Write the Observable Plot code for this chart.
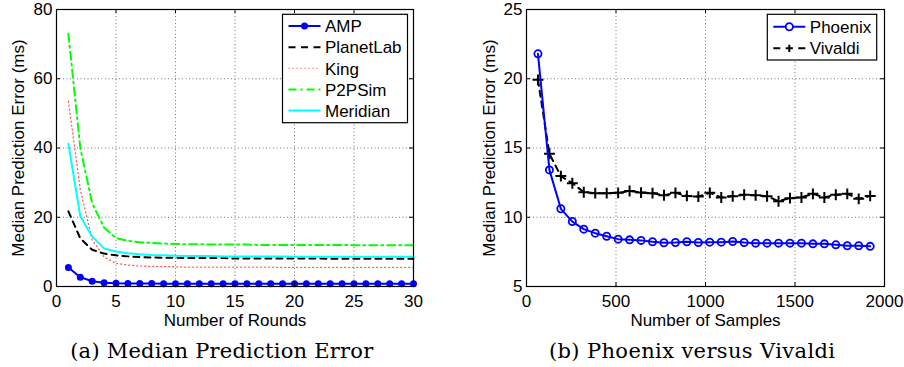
<!DOCTYPE html>
<html><head><meta charset="utf-8">
<script src="https://cdn.jsdelivr.net/npm/d3@7"></script>
<script src="https://cdn.jsdelivr.net/npm/@observablehq/plot@0.6"></script>
<style>
body{margin:0;background:#fff;}
#wrap{position:relative;width:904px;height:367px;overflow:hidden;background:#fff;}
.panel{position:absolute;top:0;}
#overlay{position:absolute;left:0;top:0;pointer-events:none;}
</style></head>
<body><div id="wrap"></div>
<script>
// ---------- data: panel (a) ----------
const rounds = [1,2,3,4,5,6,7,8,9,10,11,12,13,14,15,16,17,18,19,20,21,22,23,24,25,26,27,28,29,30];
const amp = [5.5,2.7,1.5,1.1,0.95,0.9,0.85,0.85,0.8,0.8,0.8,0.8,0.8,0.8,0.8,0.8,0.8,0.8,0.8,0.8,0.8,0.8,0.8,0.8,0.8,0.8,0.8,0.8,0.8,0.8];
const planetlab = [21.7,13.9,10.6,9.5,9.0,8.7,8.5,8.4,8.3,8.3,8.2,8.2,8.2,8.2,8.1,8.1,8.1,8.1,8.1,8.1,8.1,8.1,8.0,8.0,8.0,8.0,8.0,8.0,8.0,8.0];
const king = [53.5,28,13.5,8.5,6.7,6.2,5.9,5.8,5.7,5.7,5.6,5.6,5.6,5.6,5.6,5.6,5.6,5.6,5.5,5.5,5.5,5.5,5.5,5.5,5.5,5.5,5.5,5.5,5.5,5.5];
const p2psim = [73,40,24,17,14,13.2,12.8,12.6,12.4,12.3,12.2,12.2,12.1,12.1,12.1,12.1,12.0,12.0,12.0,12.0,12.0,12.0,12.0,12.0,11.9,11.9,11.9,11.9,11.9,11.9];
const meridian = [41.2,20.3,14.4,11.0,10.1,9.6,9.3,9.1,9.0,8.9,8.8,8.8,8.8,8.7,8.7,8.7,8.7,8.7,8.7,8.6,8.6,8.6,8.6,8.6,8.6,8.6,8.6,8.6,8.6,8.6];
const xTicksA = [0,5,10,15,20,25,30];
const yTicksA = [0,20,40,60,80];
const seriesA = ["AMP","PlanetLab","King","P2PSim","Meridian"];

// ---------- data: panel (b) ----------
const samples = [64,128,192,256,320,384,448,512,576,640,704,768,832,896,960,1024,1088,1152,1216,1280,1344,1408,1472,1536,1600,1664,1728,1792,1856,1920];
const phoenix = [21.8,13.42,10.61,9.69,9.14,8.85,8.63,8.42,8.37,8.33,8.23,8.16,8.18,8.23,8.18,8.2,8.2,8.25,8.18,8.13,8.13,8.13,8.13,8.13,8.08,8.08,8.01,7.94,7.94,7.9];
const vivaldi = [19.92,14.58,12.97,12.46,11.81,11.74,11.74,11.76,11.9,11.78,11.74,11.59,11.76,11.54,11.49,11.76,11.43,11.52,11.62,11.59,11.52,11.16,11.38,11.43,11.69,11.43,11.62,11.69,11.33,11.54];
const xTicksB = [0,500,1000,1500,2000];
const yTicksB = [5,10,15,20,25];
const seriesB = ["Phoenix","Vivaldi"];

const captions = ["(a) Median Prediction Error", "(b) Phoenix versus Vivaldi"];
const yLabel = "Median Prediction Error (ms)";

// ---------- helpers ----------
const FONT = "'Liberation Sans', Arial, Helvetica, sans-serif";
const W = 452, H = 330, MT = 9, MB = 44, TL = 4;
const gridStyle = {stroke: "#777", strokeOpacity: 1, strokeWidth: 1, strokeDasharray: "1,2.5"};
const fmt = d => String(d);

function frameTicks(xt, yt, innerW, innerH) {
  return [
    Plot.tickX(xt, {x: d => d, insetTop: innerH - TL, stroke: "black", strokeWidth: 1}),
    Plot.tickX(xt, {x: d => d, insetBottom: innerH - TL, stroke: "black", strokeWidth: 1}),
    Plot.tickY(yt, {y: d => d, insetRight: innerW - TL, stroke: "black", strokeWidth: 1}),
    Plot.tickY(yt, {y: d => d, insetLeft: innerW - TL, stroke: "black", strokeWidth: 1})
  ];
}
function axes(xt, yt, xLabel, labelOffY) {
  return [
    Plot.axisX(xt, {tickSize: 0, tickPadding: 8, tickFormat: fmt, label: xLabel, labelAnchor: "center", labelOffset: 39, labelArrow: "none"}),
    Plot.axisY(yt, {tickSize: 0, tickPadding: 4, tickFormat: fmt, label: yLabel, labelAnchor: "center", labelOffset: labelOffY, labelArrow: "none"})
  ];
}

// ---------- panel (a) ----------
const mlA = 56, mrA = 39;
const plotA = Plot.plot({
  width: W, height: H, marginLeft: mlA, marginRight: mrA, marginTop: MT, marginBottom: MB,
  style: {fontFamily: FONT, fontSize: "17px", color: "black", background: "white"},
  x: {domain: [0, 30]},
  y: {domain: [0, 80]},
  marks: [
    Plot.gridX(xTicksA.slice(1, -1), gridStyle),
    Plot.gridY(yTicksA.slice(1, -1), gridStyle),
    Plot.line(king, {x: (d, i) => rounds[i], y: d => d, stroke: "#ff5a5a", strokeWidth: 1.3, strokeDasharray: "1,3"}),
    Plot.line(p2psim, {x: (d, i) => rounds[i], y: d => d, stroke: "#00ff00", strokeWidth: 2, strokeDasharray: "8,4,2,4"}),
    Plot.line(planetlab, {x: (d, i) => rounds[i], y: d => d, stroke: "black", strokeWidth: 2, strokeDasharray: "6,5"}),
    Plot.line(meridian, {x: (d, i) => rounds[i], y: d => d, stroke: "#00ffff", strokeWidth: 2}),
    Plot.line(amp, {x: (d, i) => rounds[i], y: d => d, stroke: "#0000ff", strokeWidth: 2}),
    Plot.dot(amp, {x: (d, i) => rounds[i], y: d => d, fill: "#0000ff", r: 3.5}),
    Plot.frame({stroke: "black", strokeWidth: 1.2}),
    ...frameTicks(xTicksA, yTicksA, W - mlA - mrA, H - MT - MB),
    ...axes(xTicksA, yTicksA, "Number of Rounds", 45)
  ]
});
plotA.classList.add("panel");
plotA.style.left = "0px";

// ---------- panel (b) ----------
const mlB = 74, mrB = 20;
const plotB = Plot.plot({
  width: W, height: H, marginLeft: mlB, marginRight: mrB, marginTop: MT, marginBottom: MB,
  style: {fontFamily: FONT, fontSize: "17px", color: "black", background: "white"},
  x: {domain: [0, 2000]},
  y: {domain: [5, 25]},
  marks: [
    Plot.gridX(xTicksB.slice(1, -1), gridStyle),
    Plot.gridY(yTicksB.slice(1, -1), gridStyle),
    Plot.line(vivaldi, {x: (d, i) => samples[i], y: d => d, stroke: "black", strokeWidth: 2, strokeDasharray: "6,5"}),
    Plot.dot(vivaldi, {x: (d, i) => samples[i], y: d => d, symbol: "plus", stroke: "black", strokeWidth: 2, r: 3.6}),
    Plot.line(phoenix, {x: (d, i) => samples[i], y: d => d, stroke: "#0000ff", strokeWidth: 2}),
    Plot.dot(phoenix, {x: (d, i) => samples[i], y: d => d, stroke: "#0000ff", fill: "none", strokeWidth: 1.8, r: 3.6}),
    Plot.frame({stroke: "black", strokeWidth: 1.2}),
    ...frameTicks(xTicksB, yTicksB, W - mlB - mrB, H - MT - MB),
    ...axes(xTicksB, yTicksB, "Number of Samples", 44)
  ]
});
plotB.classList.add("panel");
plotB.style.left = "452px";

const wrap = document.getElementById("wrap");
wrap.appendChild(plotA);
wrap.appendChild(plotB);

// ---------- legends + captions overlay ----------
const svg = d3.select(wrap).append("svg").attr("id", "overlay")
  .attr("width", 904).attr("height", 367)
  .style("font-family", FONT).style("font-size", "17px");

function legend(x0, y0, w, h, rows) {
  const g = svg.append("g");
  g.append("rect").attr("x", x0).attr("y", y0).attr("width", w).attr("height", h)
    .attr("fill", "white").attr("stroke", "black").attr("stroke-width", 1.2);
  rows.forEach(r => {
    g.append("line").attr("x1", x0 + 6).attr("x2", x0 + 38).attr("y1", r.y).attr("y2", r.y)
      .attr("stroke", r.stroke).attr("stroke-width", r.sw).attr("stroke-dasharray", r.dash || null);
    const cx = x0 + 22;
    if (r.marker === "dot") g.append("circle").attr("cx", cx).attr("cy", r.y).attr("r", 3.5).attr("fill", r.stroke);
    if (r.marker === "circle") g.append("circle").attr("cx", cx).attr("cy", r.y).attr("r", 3.6).attr("fill", "white").attr("stroke", r.stroke).attr("stroke-width", 1.8);
    if (r.marker === "plus") g.append("path").attr("d", `M${cx-3.6},${r.y}H${cx+3.6}M${cx},${r.y-3.6}V${r.y+3.6}`).attr("stroke", r.stroke).attr("stroke-width", 2);
    g.append("text").attr("x", x0 + 42.5).attr("y", r.y).attr("dy", "0.36em").text(r.name);
  });
}
legend(282.5, 14.3, 125, 108.4, [
  {name: seriesA[0], y: 26, stroke: "#0000ff", sw: 2, marker: "dot"},
  {name: seriesA[1], y: 47.2, stroke: "black", sw: 2, dash: "7,5.5"},
  {name: seriesA[2], y: 68.4, stroke: "#ff5a5a", sw: 1.3, dash: "1,3"},
  {name: seriesA[3], y: 89.6, stroke: "#00ff00", sw: 2, dash: "8,4,2,4"},
  {name: seriesA[4], y: 110.6, stroke: "#00ffff", sw: 2}
]);
legend(767.3, 14.3, 109.4, 45.7, [
  {name: seriesB[0], y: 26.7, stroke: "#0000ff", sw: 2, marker: "circle"},
  {name: seriesB[1], y: 48.3, stroke: "black", sw: 2, dash: "7,18,7", marker: "plus"}
]);

svg.append("text").attr("x", 221.7).attr("y", 358).attr("text-anchor", "middle")
  .attr("textLength", 303).attr("lengthAdjust", "spacing")
  .style("font-family", "'DejaVu Serif', serif").style("font-size", "21px").text(captions[0]);
svg.append("text").attr("x", 692).attr("y", 358).attr("text-anchor", "middle")
  .attr("textLength", 286).attr("lengthAdjust", "spacing")
  .style("font-family", "'DejaVu Serif', serif").style("font-size", "21px").text(captions[1]);
</script>
</body></html>
